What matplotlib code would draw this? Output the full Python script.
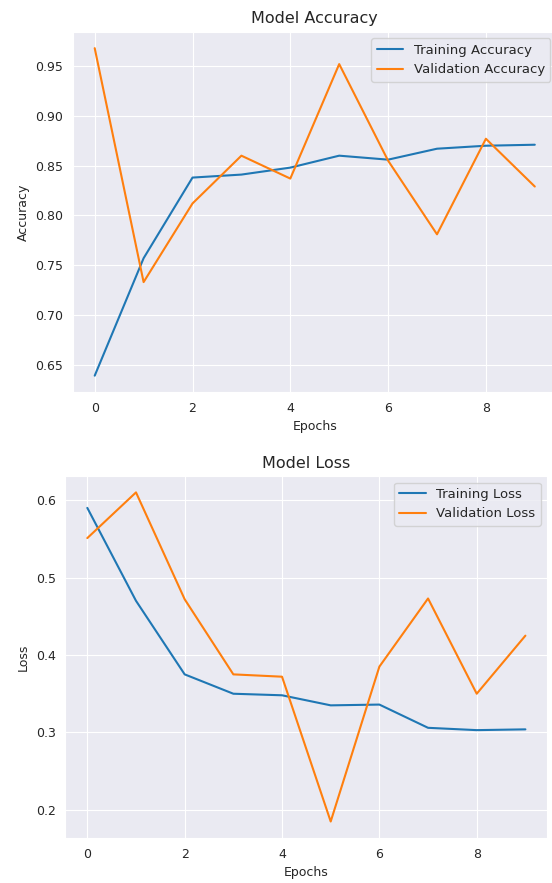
import numpy as np
import matplotlib
matplotlib.use("Agg")
import matplotlib.pyplot as plt
import seaborn as sns

epochs = list(range(10))
train_acc = [0.639, 0.757, 0.838, 0.841, 0.848, 0.860, 0.856, 0.867, 0.870, 0.871]
val_acc = [0.968, 0.733, 0.812, 0.860, 0.837, 0.952, 0.855, 0.781, 0.877, 0.829]
train_loss = [0.590, 0.470, 0.375, 0.350, 0.348, 0.335, 0.336, 0.306, 0.303, 0.304]
val_loss = [0.551, 0.610, 0.472, 0.375, 0.372, 0.185, 0.385, 0.473, 0.350, 0.425]

# darkgrid look, but keep matplotlib's default line colours
sns.set_style("darkgrid")

fig = plt.figure(figsize=(5.52, 8.83), dpi=100)
ax1 = fig.add_axes([0.1317, 0.556, 0.877, 0.408])
ax2 = fig.add_axes([0.1185, 0.051, 0.873, 0.41])

ax1.plot(epochs, train_acc, label="Training Accuracy")
ax1.plot(epochs, val_acc, label="Validation Accuracy")
ax1.set_title("Model Accuracy", fontsize=11.5)
ax1.set_xlabel("Epochs", fontsize=9)
ax1.set_ylabel("Accuracy", fontsize=9)
ax1.legend(fontsize=9.5)

ax2.plot(epochs, train_loss, label="Training Loss")
ax2.plot(epochs, val_loss, label="Validation Loss")
ax2.set_title("Model Loss", fontsize=11.5)
ax2.set_xlabel("Epochs", fontsize=9)
ax2.set_ylabel("Loss", fontsize=9)
ax2.legend(fontsize=9.5)

for ax in (ax1, ax2):
    ax.tick_params(labelsize=9)

fig.savefig("out.png", dpi=100)
